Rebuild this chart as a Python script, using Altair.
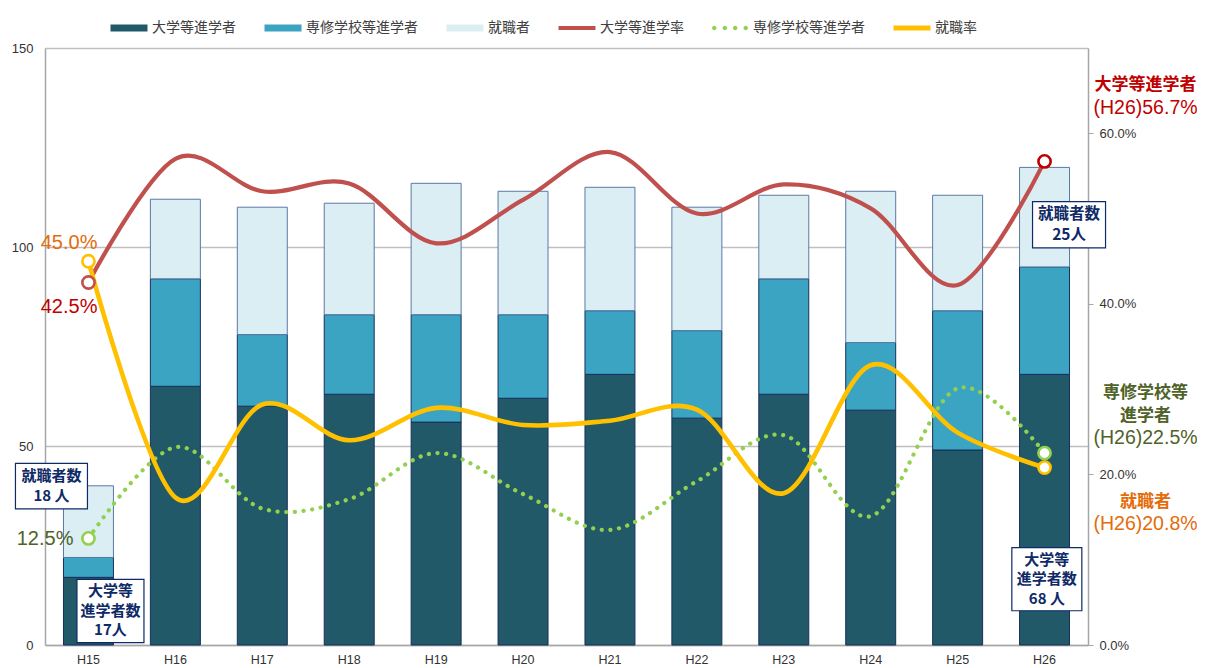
import altair as alt
import pandas as pd

# ---------------- data ----------------
cats = ["H15", "H16", "H17", "H18", "H19", "H20", "H21", "H22", "H23", "H24", "H25", "H26"]
univ_cnt = [17, 65, 60, 63, 56, 62, 68, 57, 63, 59, 49, 68]
senshu_cnt = [5, 27, 18, 20, 27, 21, 16, 22, 29, 17, 35, 27]
job_cnt = [18, 20, 32, 28, 33, 31, 31, 31, 21, 38, 29, 25]
univ_rate = [0.425, 0.570, 0.532, 0.541, 0.471, 0.522, 0.578, 0.506, 0.540, 0.512, 0.422, 0.567]
senshu_rate = [0.125, 0.232, 0.160, 0.171, 0.225, 0.177, 0.135, 0.192, 0.246, 0.151, 0.301, 0.225]
job_rate = [0.450, 0.173, 0.282, 0.240, 0.278, 0.258, 0.263, 0.276, 0.178, 0.328, 0.249, 0.208]

bar_series = ["大学等進学者", "専修学校等進学者", "就職者"]
legend_keys = ["大学等進学者", "専修学校等進学者", "就職者", "大学等進学率", "専修学校等進学者#", "就職率"]

# ---------------- styles ----------------
DARK, MID, LIGHT = "#215968", "#3ca4c3", "#dbeef4"
RED, GREEN, YELLOW = "#c0504d", "#92d050", "#ffc000"
NAVY = "#0f2a66"
T_RED, T_ORANGE, T_OLIVE = "#c00000", "#e46c0a", "#4f6228"
JP = "Noto Sans CJK JP"
LAT = "Liberation Sans"

bar_rows = []
for i, c in enumerate(cats):
    for k, (name, vals, fill, stroke) in enumerate([
        (bar_series[0], univ_cnt, DARK, "#17305c"),
        (bar_series[1], senshu_cnt, MID, "#17305c"),
        (bar_series[2], job_cnt, LIGHT, "#5a78a6"),
    ]):
        bar_rows.append({"cat": c, "series": name, "value": vals[i], "order": k,
                         "fill": fill, "stroke": stroke})
bar_df = pd.DataFrame(bar_rows)
rate_df = pd.DataFrame({"cat": cats, "univ": univ_rate, "senshu": senshu_rate, "job": job_rate})

marker_df = pd.DataFrame({
    "cat": ["H15", "H26", "H15", "H26", "H15", "H26"],
    "rate": [senshu_rate[0], senshu_rate[-1], univ_rate[0], univ_rate[-1], job_rate[0], job_rate[-1]],
    "c": [GREEN, GREEN, RED, T_RED, YELLOW, YELLOW],
})

X = alt.X("cat:N", sort=cats,
          scale=alt.Scale(domain=cats, paddingInner=0.425, paddingOuter=0.2125),
          axis=alt.Axis(title=None, labelAngle=0, ticks=False, domainColor="#a6a6a6",
                        domainWidth=1.5, labelFont=LAT, labelFontSize=12.5,
                        labelColor="#333333", labelPadding=8))

CNT = alt.Scale(domain=[0, 150], nice=False)
RATE = alt.Scale(domain=[0, 0.7], nice=False)

left_axis = alt.Axis(title=None, values=[0, 50, 100, 150], grid=True, gridColor="#bfbfbf",
                     gridWidth=1.3, domainColor="#a6a6a6", domainWidth=1.5, ticks=False,
                     labelPadding=12, labelFont=LAT, labelFontSize=13, labelColor="#333333")
right_axis = alt.Axis(title=None, orient="right", values=[0, 0.2, 0.4, 0.6], format=".1%",
                      grid=False, domainColor="#a6a6a6", domainWidth=1.5, tickColor="#a6a6a6",
                      tickSize=5, labelPadding=6, labelFont=LAT, labelFontSize=13,
                      labelColor="#333333")

bars = alt.Chart(bar_df).mark_bar(strokeWidth=1).encode(
    x=X,
    y=alt.Y("value:Q", stack="zero", scale=CNT, axis=left_axis),
    color=alt.Color("fill:N", scale=None),
    stroke=alt.Stroke("stroke:N", scale=None),
    order=alt.Order("order:Q"),
)

green_line = alt.Chart(rate_df).mark_line(
    color=GREEN, strokeWidth=4.2, strokeDash=[0.1, 8.6], strokeCap="round", interpolate="cardinal"
).encode(x=X, y=alt.Y("senshu:Q", scale=RATE, axis=right_axis))
red_line = alt.Chart(rate_df).mark_line(color=RED, strokeWidth=4.2, interpolate="cardinal").encode(
    x=X, y=alt.Y("univ:Q", scale=RATE, axis=None))
yellow_line = alt.Chart(rate_df).mark_line(color=YELLOW, strokeWidth=4.6, interpolate="cardinal").encode(
    x=X, y=alt.Y("job:Q", scale=RATE, axis=None))

markers = alt.Chart(marker_df).mark_point(filled=True, fill="white", size=150, strokeWidth=2.6,
                                          opacity=1).encode(
    x=X, y=alt.Y("rate:Q", scale=RATE, axis=None), stroke=alt.Stroke("c:N", scale=None))


def rate_text(cat, val, text, dx, dy, color, size, weight="normal", align="center", font=LAT):
    df = pd.DataFrame({"cat": [cat], "v": [val], "t": [text]})
    return alt.Chart(df).mark_text(dx=dx, dy=dy, align=align, baseline="middle", color=color,
                                   fontSize=size, fontWeight=weight, font=font).encode(
        x=X, y=alt.Y("v:Q", scale=RATE, axis=None), text="t:N")


def box(cat, y1, y2, xoff, w, text, size, lh):
    n = text.count("\n") + 1
    df = pd.DataFrame({"cat": [cat], "y1": [y1], "y2": [y2], "m": [(y1 + y2) / 2], "t": [text]})
    rect = alt.Chart(df).mark_bar(width=w, xOffset=xoff, fill="white", stroke=NAVY,
                                  strokeWidth=1.2).encode(
        x=X, y=alt.Y("y1:Q", scale=CNT, axis=None), y2="y2:Q")
    label = alt.Chart(df).mark_text(dx=xoff, dy=-(n - 1) * lh / 2, align="center",
                                    baseline="middle", color=NAVY, fontSize=size,
                                    fontWeight="bold", font=JP, lineBreak="\n",
                                    lineHeight=lh).encode(
        x=X, y=alt.Y("m:Q", scale=CNT, axis=None), text="t:N")
    return [rect, label]


RX = 101
texts = [
    rate_text("H15", job_rate[0], "45.0%", 9, -18.5, T_ORANGE, 20, align="right"),
    rate_text("H15", univ_rate[0], "42.5%", 9, 24.5, T_RED, 20, align="right"),
    rate_text("H15", senshu_rate[0], "12.5%", -15, 0.5, T_OLIVE, 20, align="right"),
    rate_text("H26", univ_rate[-1], "大学等進学者", RX, -76.4, T_RED, 17, "bold", font=JP),
    rate_text("H26", univ_rate[-1], "(H26)56.7%", RX, -53.4, T_RED, 19.5),
    rate_text("H26", senshu_rate[-1], "専修学校等", RX, -60.1, T_OLIVE, 17, "bold", font=JP),
    rate_text("H26", senshu_rate[-1], "進学者", RX, -37.1, T_OLIVE, 17, "bold", font=JP),
    rate_text("H26", senshu_rate[-1], "(H26)22.5%", RX, -15.1, T_OLIVE, 19.5),
    rate_text("H26", job_rate[-1], "就職者", RX, 34.1, T_ORANGE, 17, "bold", font=JP),
    rate_text("H26", job_rate[-1], "(H26)20.8%", RX, 55.9, T_ORANGE, 19.5),
]

boxes = []
boxes += box("H15", 34.2, 45.65, -37, 72, "就職者数\n18 人", 15, 20)
boxes += box("H15", 0.6, 16.5, 22, 67, "大学等\n進学者数\n17人", 15, 19.5)
boxes += box("H26", 99.8, 111.4, 24.5, 73, "就職者数\n25人", 15.5, 21)
boxes += box("H26", 8.6, 24.45, 2.3, 70, "大学等\n進学者数\n68 人", 15, 19.3)

# legend (drawn by the library from a fill + shape scale)
dots = " ".join(
    f"M{c - 0.12:.2f},0A0.12,0.12 0 1,0 {c + 0.12:.2f},0A0.12,0.12 0 1,0 {c - 0.12:.2f},0Z"
    for c in (-0.85, -0.28, 0.28, 0.85))
paths = ["M-1,-0.19H1V0.19H-1Z"] * 3 + ["M-1,-0.11H1V0.11H-1Z", dots, "M-1,-0.13H1V0.13H-1Z"]
leg_colors = [DARK, MID, LIGHT, RED, GREEN, YELLOW]
legend = alt.Legend(
    orient="none", legendX=65, legendY=-39, direction="horizontal", title=None,
    symbolSize=1369, symbolStrokeWidth=1, symbolOpacity=1,
    symbolStrokeColor={"expr": "indexof(['大学等進学者','専修学校等進学者','就職者'], datum.value) >= 0 ? '#1f3864' : 'transparent'"},
    labelFont=JP, labelFontSize=14, labelColor="#404040", labelOffset=4, columnPadding=26,
    padding=0, labelExpr="replace(datum.label, '#', '')",
)
leg_df = pd.DataFrame({"name": legend_keys})
legend_layer = alt.Chart(leg_df).mark_point(filled=True, opacity=0).encode(
    fill=alt.Fill("name:N", scale=alt.Scale(domain=legend_keys, range=leg_colors), legend=legend),
    shape=alt.Shape("name:N", scale=alt.Scale(domain=legend_keys, range=paths), legend=legend),
)

chart = alt.layer(
    bars, green_line, red_line, yellow_line, markers, *boxes, *texts, legend_layer
).resolve_scale(y="independent").properties(
    width=1043, height=597,
    padding={"left": 37, "top": 40, "right": 109, "bottom": 20},
    autosize=alt.AutoSizeParams(type="none"),
).configure_view(stroke=None)

chart.save("out.html", embed_options={"renderer": "svg", "actions": False})
